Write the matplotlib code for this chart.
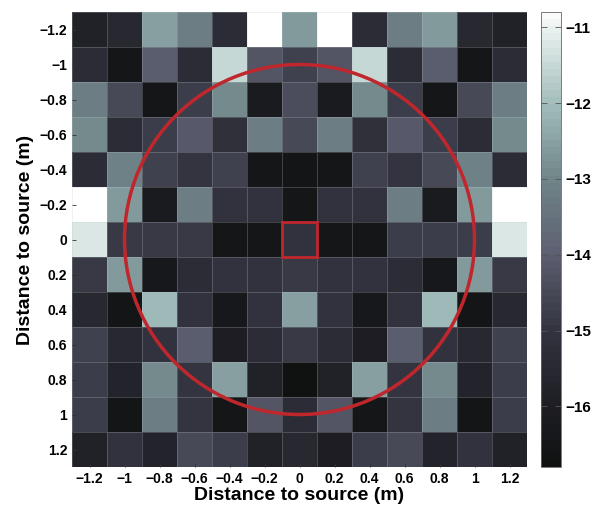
import numpy as np
import matplotlib
matplotlib.use("Agg")
import matplotlib.pyplot as plt
from matplotlib.patches import Circle, Rectangle
from matplotlib.colors import LinearSegmentedColormap

positions = [-1.2, -1.0, -0.8, -0.6, -0.4, -0.2, 0.0, 0.2, 0.4, 0.6, 0.8, 1.0, 1.2]
tick_labels = ["\u22121.2", "\u22121", "\u22120.8", "\u22120.6", "\u22120.4", "\u22120.2", "0",
               "0.2", "0.4", "0.6", "0.8", "1", "1.2"]
nan = np.nan
# rows: y = -1.2 (top) ... 1.2 (bottom); columns: x = -1.2 ... 1.2
values = [
    [-15.85, -15.5, -12.55, -13.2, -15.35, nan, -12.65, nan, -15.35, -13.2, -12.65, -15.5, -15.85],
    [-15.35, -16.5, -14.0, -15.35, -11.55, -14.2, -14.65, -14.2, -11.55, -15.35, -14.0, -16.5, -15.35],
    [-13.2, -14.5, -16.5, -14.75, -12.95, -16.2, -14.4, -16.2, -12.95, -14.75, -16.5, -14.5, -13.2],
    [-12.95, -15.35, -14.75, -14.1, -15.2, -13.2, -14.5, -13.2, -15.2, -14.1, -14.75, -15.35, -12.95],
    [-15.35, -13.1, -14.65, -14.95, -14.65, -16.5, -16.6, -16.5, -14.65, -14.95, -14.5, -13.1, -15.35],
    [nan, -12.65, -16.2, -13.2, -15.05, -15.05, -16.5, -15.05, -15.05, -13.2, -16.2, -12.65, nan],
    [-11.25, -14.85, -14.85, -14.85, -16.5, -16.5, -15.1, -16.5, -16.5, -14.75, -14.75, -14.75, -11.25],
    [-14.85, -12.6, -16.35, -15.35, -15.05, -15.05, -14.85, -15.05, -15.05, -15.35, -16.35, -12.6, -14.85],
    [-15.5, -16.6, -12.1, -15.05, -16.35, -15.1, -12.55, -15.1, -16.35, -15.05, -12.1, -16.6, -15.5],
    [-14.65, -15.5, -15.05, -14.0, -16.0, -15.35, -14.85, -15.35, -16.0, -14.0, -15.05, -15.5, -14.65],
    [-14.75, -15.7, -12.9, -14.95, -12.55, -15.85, -16.75, -15.85, -12.55, -14.95, -12.9, -15.7, -14.75],
    [-14.75, -16.6, -13.2, -14.95, -16.5, -14.2, -15.35, -14.2, -16.5, -14.95, -13.2, -16.6, -14.75],
    [-15.85, -15.1, -15.7, -14.5, -14.75, -15.85, -15.5, -16.0, -14.75, -14.5, -15.7, -15.1, -15.85],
]
vmin, vmax = -16.8, -10.8
cbar_ticks = [-16, -15, -14, -13, -12, -11]
circle_radius = 1.0
center_half = 0.1

# colormap sampled from the reference colour bar (bone-like)
cmap_values = [-16.8, -16.0, -15.0, -14.0, -13.0, -12.0, -11.0, -10.8]
cmap_rgb = [(16, 18, 18), (30, 30, 36), (52, 52, 64), (92, 95, 112),
            (112, 132, 136), (160, 188, 186), (232, 240, 238), (250, 252, 252)]

plt.rcParams['font.family'] = ['Liberation Sans', 'DejaVu Sans']
fig = plt.figure(figsize=(5.91, 5.11), dpi=100)
ax = fig.add_axes([72/591, 1-467/511, 455/591, 455/511])
cax = fig.add_axes([541/591, 1-467/511, 20/591, 455/511])

anchors = [((v - vmin) / (vmax - vmin), tuple(c / 255 for c in rgb))
           for v, rgb in zip(cmap_values, cmap_rgb)]
cmap = LinearSegmentedColormap.from_list('refbone', anchors, N=64)
cmap.set_bad('white')

pos = np.array(positions)
step = 0.2
edges = np.concatenate([pos - step/2, [pos[-1] + step/2]])
data = np.ma.masked_invalid(np.array(values))
mesh = ax.pcolormesh(edges, edges, data, cmap=cmap, vmin=vmin, vmax=vmax,
                     edgecolors=(0.75, 0.8, 0.8, 0.25), linewidth=0.5)
ax.set_xlim(edges[0], edges[-1])
ax.set_ylim(edges[-1], edges[0])

ax.add_patch(Circle((0, 0), circle_radius, fill=False, edgecolor='#c0272d', linewidth=2.5))
ax.add_patch(Rectangle((-center_half, -center_half), 2*center_half, 2*center_half,
                       fill=False, edgecolor='#c0272d', linewidth=2.0))

ax.set_xticks(positions)
ax.set_xticklabels(tick_labels)
ax.set_yticks(positions)
ax.set_yticklabels(tick_labels)
ax.tick_params(direction='in', length=3, width=0.6, labelsize=10, top=False, right=False,
               color='#333333')
for lab in ax.get_xticklabels() + ax.get_yticklabels():
    lab.set_fontweight('bold')
ax.set_xlabel('Distance to source (m)', fontsize=14, fontweight='bold', labelpad=1)
ax.set_ylabel('Distance to source (m)', fontsize=14, fontweight='bold', labelpad=4)
for s in ax.spines.values():
    s.set_visible(False)

cb = fig.colorbar(mesh, cax=cax, ticks=cbar_ticks)
cb.ax.set_yticklabels(["\u2212%d" % abs(t) for t in cbar_ticks])
cb.ax.tick_params(direction='in', length=4, width=0.6, labelsize=11, left=True, right=True,
                  color='#555555')
for lab in cb.ax.get_yticklabels():
    lab.set_fontweight('bold')
cb.outline.set_linewidth(0.6)
cb.outline.set_edgecolor('#666666')

fig.savefig('out.png', dpi=100)
